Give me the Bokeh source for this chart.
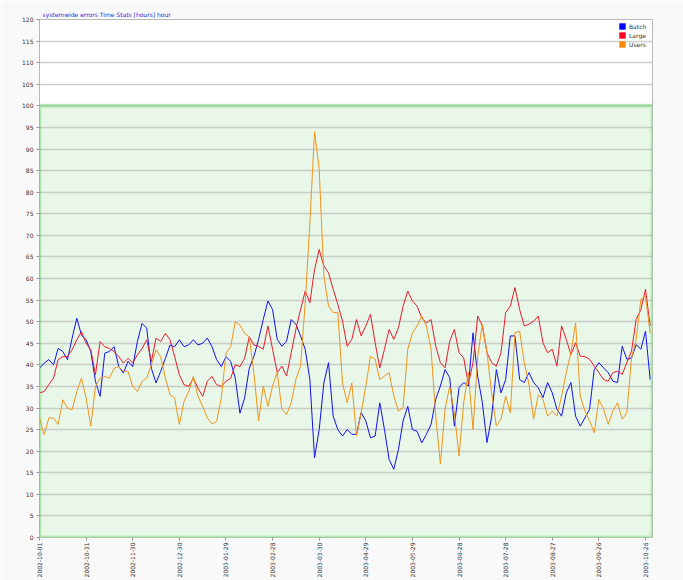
import math
import pandas as pd
from bokeh.plotting import figure
from bokeh.models import (FixedTicker, BoxAnnotation, Legend, LegendItem,
                          ColumnDataSource, Range1d)
from bokeh.embed import file_html
from bokeh.resources import INLINE

# ---------------- data ----------------
title_text = "systemwide errors   Time Stats [hours]   hour"
series_names = ["Batch", "Large", "Users"]
start_date = "2002-10-01"
step_days = 3

blue = [39.2, 40.4, 41.2, 40.0, 43.8, 43.1, 41.2, 46.2, 50.8, 46.9,
        45.8, 43.1, 36.2, 32.7, 42.7, 43.1, 44.2, 39.6, 38.1, 40.8,
        39.6, 45.4, 49.6, 48.5, 39.2, 35.8, 38.5, 41.5, 44.6, 44.2,
        45.8, 44.2, 44.6, 45.8, 44.6, 45.0, 46.2, 44.2, 41.2, 39.6,
        41.9, 40.8, 36.9, 28.8, 32.3, 39.2, 42.0,
        45.9, 50.5, 54.8, 52.8, 45.9, 44.3, 45.5, 50.5, 49.4, 46.7,
        43.6, 36.6, 18.5, 25.0, 35.8, 40.5, 28.1, 25.0, 23.5, 25.0,
        23.9, 23.9, 28.9, 27.0, 23.1, 23.5, 31.2, 25.0, 18.1, 15.8,
        20.4, 27.0, 30.4, 25.0, 24.6, 21.9, 23.9, 26.2, 32.0, 35.1,
        38.9, 37.0,
        25.8, 34.7, 35.9, 35.1, 47.4, 37.4, 31.2, 22.0, 28.1, 38.9,
        33.5, 36.6, 46.7, 46.7, 36.6, 35.9, 38.2, 35.9, 34.7, 32.4,
        35.9, 33.5, 29.7, 28.1, 33.5, 35.9, 28.1, 25.8, 27.7, 29.7,
        38.9, 40.5, 39.3, 38.2, 36.2, 35.9, 44.3, 41.3, 41.6, 44.7,
        43.6, 47.8, 36.6]

red = [33.5, 33.8, 35.4, 36.9, 41.2, 41.9, 41.9, 43.5, 45.8, 47.7,
       45.0, 43.5, 37.7, 45.4, 44.2, 43.8, 43.1, 41.9, 40.4, 41.5,
       40.4, 42.3, 43.8, 45.8, 40.8, 46.2, 45.4, 47.3, 45.8, 41.9,
       37.7, 35.4, 35.0, 36.9, 34.6, 32.7, 36.2, 37.3, 35.4, 35.0,
       36.2, 36.9, 40.0, 39.6, 41.5, 46.5, 44.6,
       44.3, 43.6, 49.0, 43.6, 38.2, 39.7, 37.4, 42.8, 48.2, 52.8,
       57.1, 54.4, 62.1, 66.7, 62.9, 61.3, 57.5, 54.0, 50.1, 44.3,
       45.9, 50.5, 46.7, 49.0, 51.7, 45.1, 39.3, 43.6, 48.2, 45.9,
       48.6, 53.6, 57.1, 54.8, 53.6, 50.9, 49.7, 50.5, 44.3, 40.5,
       39.3, 45.5,
       48.2, 42.8, 41.6, 35.5, 40.5, 51.3, 49.0, 42.8, 40.5, 39.7,
       42.8, 52.1, 53.6, 57.9, 52.8, 49.0, 49.4, 50.1, 51.3, 45.1,
       42.8, 43.6, 39.7, 49.0, 45.9, 42.4, 45.1, 42.0, 41.9, 41.3,
       39.7, 38.2, 36.6, 36.2, 38.2, 38.5, 37.8, 40.5, 43.2, 50.5,
       52.8, 57.5, 49.0]

orange = [27.7, 23.8, 27.7, 27.7, 26.2, 31.9, 30.0, 29.6, 33.8, 36.9,
          32.3, 25.8, 35.0, 36.9, 37.3, 36.9, 39.2, 39.6, 38.5, 38.5,
          35.0, 33.8, 36.2, 36.9, 40.0, 43.5, 41.9, 36.9, 33.1, 32.3,
          26.2, 31.5, 33.8, 37.3, 32.7, 30.4, 27.7, 26.3, 26.9, 32.3,
          42.7, 44.2, 50.0, 49.2, 47.3, 46.5, 38.0,
          27.0, 35.1, 30.4, 35.1, 38.2, 29.7, 28.5, 31.2, 36.6, 39.7,
          54.4, 72.9, 94.0, 85.3, 60.6, 53.6, 52.1, 52.1, 35.8, 31.2,
          35.8, 23.5, 28.9, 35.1, 42.0, 41.3, 36.6, 37.4, 38.2, 32.8,
          29.3, 30.1, 43.6, 47.4, 49.0, 51.3, 49.0, 43.6, 28.1, 17.0,
          29.7, 35.1,
          28.9, 18.9, 31.2, 38.2, 25.0, 42.0, 49.4, 42.8, 33.5, 25.8,
          27.4, 32.8, 28.9, 47.4, 47.8, 40.5, 35.5, 27.4, 33.1, 32.0,
          28.1, 29.3, 28.1, 32.8, 38.2, 42.8, 49.7, 32.8, 29.3, 27.0,
          24.3, 32.0, 29.7, 26.2, 29.3, 31.2, 27.4, 28.9, 41.6, 45.9,
          55.2, 55.9, 47.4]

tick_days = list(range(0, 391, 30))
tick_labels = [(pd.Timestamp(start_date) + pd.Timedelta(days=d)).strftime("%Y-%m-%d")
               for d in tick_days]
y_ticks = list(range(0, 121, 5))

days = [i * step_days for i in range(len(blue))]
colors = ["#1010f0", "#e81a2a", "#f0941a"]
swatch_colors = ["#0000ff", "#ff0022", "#ff8800"]

# ---------------- figure ----------------
p = figure(width=683, height=580, output_backend="svg", toolbar_location=None,
           x_range=Range1d(0, 394.5), y_range=Range1d(0, 120),
           min_border_left=39, min_border_right=31, min_border_top=19,
           min_border_bottom=42)
p.background_fill_color = "white"
p.border_fill_color = "#f9f9f9"
p.outline_line_color = "#b8b8b8"

p.title.text = title_text
p.title.text_font_size = "6px"
p.title.text_font_style = "normal"
p.title.text_color = "#2b2bd8"
p.title.text_font = "DejaVu Sans"
p.title.standoff = 3
p.title.offset = 3

# green band 0..100
p.add_layout(BoxAnnotation(bottom=0, top=100, fill_color="#e8f7e8", fill_alpha=1,
                           line_color=None, level="image"))
p.add_layout(BoxAnnotation(bottom=0, top=100, fill_alpha=0, line_color="#33cc33",
                           line_width=4, level="overlay"))

# axes
p.yaxis.ticker = FixedTicker(ticks=y_ticks)
p.yaxis.major_label_text_font_size = "6px"
p.yaxis.major_label_text_font = "DejaVu Sans"
p.yaxis.major_label_text_color = "#333333"
p.yaxis.major_tick_in = 0
p.yaxis.major_tick_out = 3
p.yaxis.minor_tick_line_color = None
p.yaxis.axis_line_color = "#b8b8b8"
p.yaxis.major_tick_line_color = "#999999"
p.yaxis.major_label_standoff = 3

p.xaxis.ticker = FixedTicker(ticks=tick_days)
p.xaxis.major_label_overrides = {d: lab for d, lab in zip(tick_days, tick_labels)}
p.xaxis.major_label_orientation = math.pi / 2
p.xaxis.major_label_text_font_size = "6px"
p.xaxis.major_label_text_font = "DejaVu Sans"
p.xaxis.major_label_text_color = "#333333"
p.xaxis.major_tick_in = 0
p.xaxis.major_tick_out = 3
p.xaxis.minor_tick_line_color = None
p.xaxis.axis_line_color = None
p.xaxis.major_tick_line_color = "#999999"
p.xaxis.major_label_standoff = 2

p.xgrid.visible = False
p.ygrid.grid_line_color = "#c0c0c0"
p.ygrid.grid_line_alpha = 0.8
p.ygrid.grid_line_width = 1.5

# series
for vals, c in zip([blue, red, orange], colors):
    p.line(days, vals, line_color=c, line_width=1.0)

# legend with square swatches (hidden NaN quads, only used for the legend)
nan = float("nan")
items = []
for name, c in zip(series_names, swatch_colors):
    src = ColumnDataSource(dict(l=[nan], r=[nan], t=[nan], b=[nan]))
    r = p.quad(left="l", right="r", top="t", bottom="b", source=src,
               fill_color=c, line_color=None)
    items.append(LegendItem(label=name, renderers=[r]))
legend = Legend(items=items, location="top_right", glyph_width=8, glyph_height=8,
                label_text_font_size="6px", label_text_font="DejaVu Sans",
                label_text_color="#333333", label_height=8, label_standoff=3,
                spacing=1, padding=2, margin=3, background_fill_alpha=0,
                border_line_color=None)
p.add_layout(legend)

open("out.html", "w").write(file_html(p, INLINE))
